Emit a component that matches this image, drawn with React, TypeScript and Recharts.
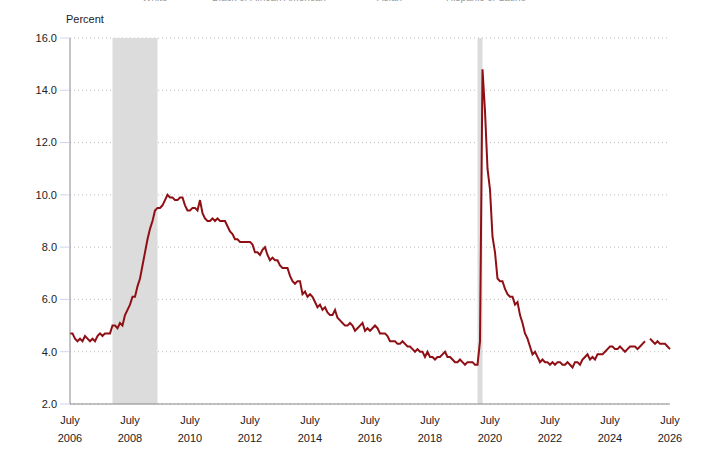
import React from "react"
import { CartesianGrid, Line, LineChart, ReferenceArea, XAxis, YAxis } from "recharts"

// monthly unemployment rate, July 2006 through July 2026 (Oct 2025 not published)
const START_YEAR = 2006
const START_MONTH = 6 // July, zero based

const rates: (number | null)[] = [
  // 2006 (Jul-Dec)
  4.7, 4.7, 4.5, 4.4, 4.5, 4.4,
  // 2007
  4.6, 4.5, 4.4, 4.5, 4.4, 4.6, 4.7, 4.6, 4.7, 4.7, 4.7, 5.0,
  // 2008
  5.0, 4.9, 5.1, 5.0, 5.4, 5.6, 5.8, 6.1, 6.1, 6.5, 6.8, 7.3,
  // 2009
  7.8, 8.3, 8.7, 9.0, 9.4, 9.5, 9.5, 9.6, 9.8, 10.0, 9.9, 9.9,
  // 2010
  9.8, 9.8, 9.9, 9.9, 9.6, 9.4, 9.4, 9.5, 9.5, 9.4, 9.8, 9.3,
  // 2011
  9.1, 9.0, 9.0, 9.1, 9.0, 9.1, 9.0, 9.0, 9.0, 8.8, 8.6, 8.5,
  // 2012
  8.3, 8.3, 8.2, 8.2, 8.2, 8.2, 8.2, 8.1, 7.8, 7.8, 7.7, 7.9,
  // 2013
  8.0, 7.7, 7.5, 7.6, 7.5, 7.5, 7.3, 7.2, 7.2, 7.2, 6.9, 6.7,
  // 2014
  6.6, 6.7, 6.7, 6.2, 6.3, 6.1, 6.2, 6.1, 5.9, 5.7, 5.8, 5.6,
  // 2015
  5.7, 5.5, 5.4, 5.4, 5.6, 5.3, 5.2, 5.1, 5.0, 5.0, 5.1, 5.0,
  // 2016
  4.8, 4.9, 5.0, 5.1, 4.8, 4.9, 4.8, 4.9, 5.0, 4.9, 4.7, 4.7,
  // 2017
  4.7, 4.6, 4.4, 4.4, 4.4, 4.3, 4.3, 4.4, 4.3, 4.2, 4.2, 4.1,
  // 2018
  4.0, 4.1, 4.0, 4.0, 3.8, 4.0, 3.8, 3.8, 3.7, 3.8, 3.8, 3.9,
  // 2019
  4.0, 3.8, 3.8, 3.7, 3.6, 3.6, 3.7, 3.6, 3.5, 3.6, 3.6, 3.6,
  // 2020
  3.5, 3.5, 4.4, 14.8, 13.2, 11.0, 10.2, 8.4, 7.8, 6.8, 6.7, 6.7,
  // 2021
  6.4, 6.2, 6.1, 6.1, 5.8, 5.9, 5.4, 5.1, 4.7, 4.5, 4.2, 3.9,
  // 2022
  4.0, 3.8, 3.6, 3.7, 3.6, 3.6, 3.5, 3.6, 3.5, 3.6, 3.6, 3.5,
  // 2023
  3.5, 3.6, 3.5, 3.4, 3.6, 3.6, 3.5, 3.7, 3.8, 3.9, 3.7, 3.8,
  // 2024
  3.7, 3.9, 3.9, 3.9, 4.0, 4.1, 4.2, 4.2, 4.1, 4.1, 4.2, 4.1,
  // 2025
  4.0, 4.1, 4.2, 4.2, 4.2, 4.1, 4.2, 4.3, 4.4, null, 4.5, 4.4,
  // 2026 (Jan-Jul)
  4.3, 4.4, 4.3, 4.3, 4.3, 4.2, 4.1,
]

// recession bands, as month offsets from July 2006
const recessions = [
  { from: 17, to: 35 }, // Dec 2007 - Jun 2009
  { from: 163, to: 165 }, // Feb 2020 - Apr 2020
]

const tickYears = [2006, 2008, 2010, 2012, 2014, 2016, 2018, 2020, 2022, 2024, 2026]
const yTicks = [2, 4, 6, 8, 10, 12, 14, 16]
// legend sits above the visible area, only the bottom of its text shows
const legendNames = ["White", "Black or African American", "Asian", "Hispanic or Latino"]
const legendX = [142, 212, 377, 446]

const data = rates.map((v, i) => ({ m: i, rate: v }))
const xTicks = tickYears.map((y) => (y - START_YEAR) * 12 + (6 - START_MONTH))

const FONT = "'Liberation Sans', Arial, sans-serif"

const XTick = ({ x, y, payload }: any) => {
  const year = START_YEAR + Math.floor((payload.value + START_MONTH) / 12)
  return (
    <g>
      <text x={x} y={y} dy={12} textAnchor="middle" fontSize={11} fill="#222" fontFamily={FONT}>
        July
      </text>
      <text x={x} y={y} dy={30} textAnchor="middle" fontSize={11} fill="#222" fontFamily={FONT}>
        {year}
      </text>
    </g>
  )
}

export default function App() {
  return (
    <div style={{ position: "absolute", left: 0, top: 0, width: 720, height: 456, background: "#fff" }}>
      <LineChart width={720} height={456} data={data} margin={{ top: 38, right: 50, bottom: 0, left: 0 }}>
        <CartesianGrid vertical={false} stroke="#bdbdbd" strokeDasharray="1 3" />
        {recessions.map((r, i) => (
          <ReferenceArea key={i} x1={r.from} x2={r.to} y1={2} y2={16} fill="#dcdcdc" fillOpacity={1} stroke="none" />
        ))}
        <XAxis
          dataKey="m"
          type="number"
          domain={[0, 240]}
          ticks={xTicks}
          height={52}
          tickLine={false}
          axisLine={{ stroke: "#888" }}
          tick={<XTick />}
          interval={0}
        />
        <YAxis
          type="number"
          domain={[2, 16]}
          ticks={yTicks}
          width={70}
          tickSize={10}
          tickMargin={3}
          tickLine={{ stroke: "#ccd6eb" }}
          axisLine={{ stroke: "#888" }}
          tickFormatter={(v: number) => v.toFixed(1)}
          tick={{ fontSize: 11, fill: "#222", fontFamily: FONT }}
          interval={0}
        />
        <Line
          type="linear"
          dataKey="rate"
          stroke="#8f0f14"
          strokeWidth={2}
          dot={false}
          connectNulls={false}
          isAnimationActive={false}
        />
      </LineChart>
      <svg width={720} height={456} style={{ position: "absolute", left: 0, top: 0, pointerEvents: "none" }}>
        <text x={66} y={23} fontSize={11} fill="#222" fontFamily={FONT}>
          Percent
        </text>
        {legendNames.map((n, i) => (
          <text key={n} x={legendX[i]} y={1} fontSize={10} fill="#999" fontFamily={FONT}>
            {n}
          </text>
        ))}
      </svg>
    </div>
  )
}
